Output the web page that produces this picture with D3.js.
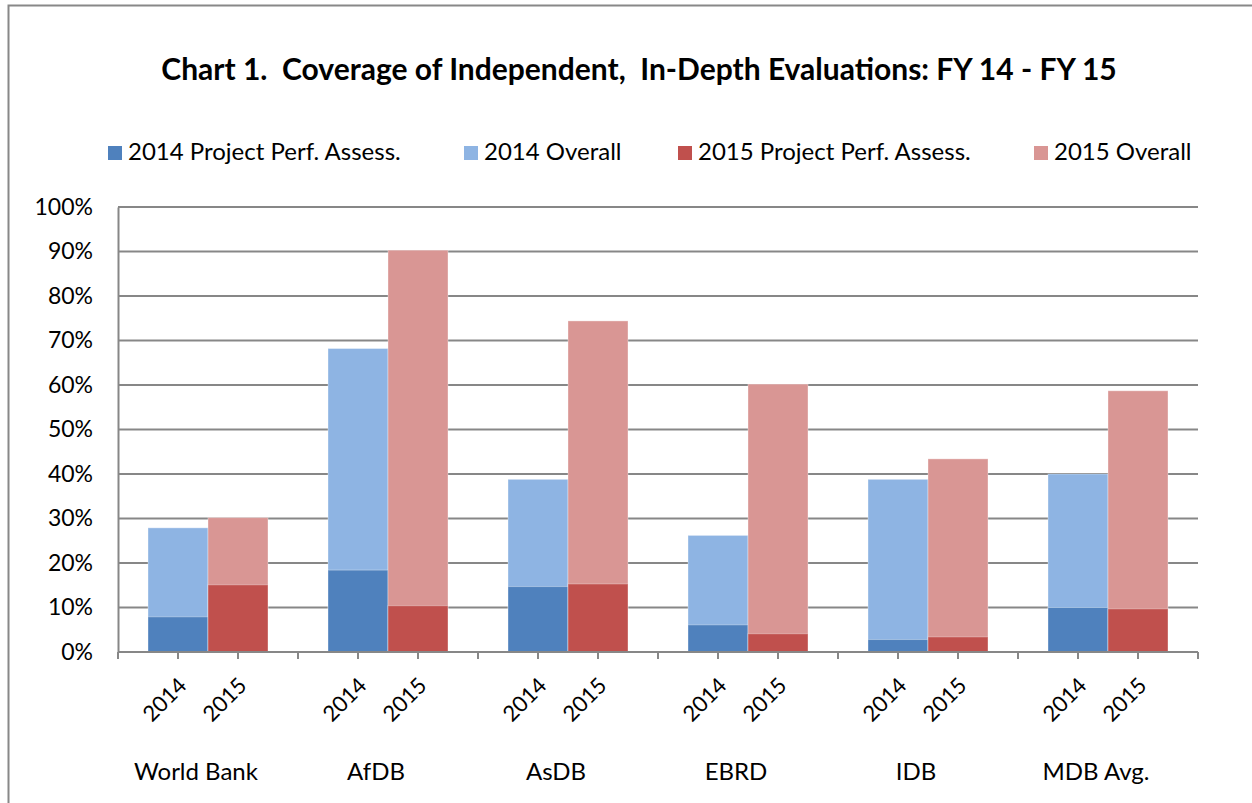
<!DOCTYPE html>
<html>
<head>
<meta charset="utf-8">
<script src="https://cdn.jsdelivr.net/npm/d3@7"></script>
<style>
    body { margin: 0; background: #fff; }
    text { font-family: Lato, 'Open Sans', sans-serif; fill: #000; white-space: pre; }
</style>
</head>
<body>
<svg width="1252" height="803"></svg>
<script>
// chart values (percent)
let groups = ['World Bank', 'AfDB', 'AsDB', 'EBRD', 'IDB', 'MDB Avg.'];
let years = ['2014', '2015'];
let ppa2014 = [7.9, 18.4, 14.7, 6.1, 2.8, 10.0];
let overall2014 = [27.9, 68.2, 38.8, 26.2, 38.8, 40.0];
let ppa2015 = [15.1, 10.4, 15.3, 4.1, 3.4, 9.7];
let overall2015 = [30.2, 90.3, 74.4, 60.2, 43.4, 58.7];
let yTicks = [0, 10, 20, 30, 40, 50, 60, 70, 80, 90, 100];
let legendLabels = ['2014 Project Perf. Assess.', '2014 Overall', '2015 Project Perf. Assess.', '2015 Overall'];

function main() {
    let svg = d3.select('svg'),
        margin = { top: 207, bottom: 151, left: 118, right: 54 },
        width = svg.attr('width') - margin.left - margin.right,
        height = svg.attr('height') - margin.top - margin.bottom;

    let colors = {
        ppa2014: '#4f81bd',
        over2014: '#8eb4e3',
        ppa2015: '#c0504d',
        over2015: '#d99694'
    };

    //outer frame
    svg.append('rect')
        .attr('x', 8.5).attr('y', 5.5)
        .attr('width', 1260).attr('height', 820)
        .attr('fill', 'none')
        .attr('stroke', '#888')
        .attr('stroke-width', 2);

    //Scales
    let x0 = d3.scaleBand()
            .domain(groups)
            .range([margin.left, margin.left + 1080]),
        x1 = d3.scaleBand()
            .domain(years)
            .range([0, x0.bandwidth()])
            .paddingInner(0)
            .paddingOuter(0.5),
        yScale = d3.scaleLinear()
            .domain([0, 100])
            .range([margin.top + height, margin.top]);

    //Gridlines
    svg.append('g')
        .selectAll('line')
        .data(yTicks)
        .enter()
        .append('line')
        .attr('x1', margin.left)
        .attr('x2', margin.left + width)
        .attr('y1', (d) => yScale(d))
        .attr('y2', (d) => yScale(d))
        .attr('stroke', '#878787')
        .attr('stroke-width', 2);

    //Y Axis
    let yAxis = svg.append('g')
        .attr('transform', 'translate(' + margin.left + ', 0)')
        .call(d3.axisLeft(yScale)
            .tickValues(yTicks)
            .tickSize(0)
            .tickPadding(25)
            .tickFormat((d) => d + '%'));
    yAxis.select('.domain').attr('stroke', '#878787').attr('stroke-width', 2);
    yAxis.selectAll('text').style('font-size', '23px');

    //Bars
    let rows = groups.map((g, i) => ({
        group: g,
        bars: [
            { year: '2014', ppa: ppa2014[i], overall: overall2014[i], cPpa: colors.ppa2014, cOver: colors.over2014 },
            { year: '2015', ppa: ppa2015[i], overall: overall2015[i], cPpa: colors.ppa2015, cOver: colors.over2015 }
        ]
    }));

    let groupSel = svg.append('g')
        .selectAll('g')
        .data(rows)
        .enter()
        .append('g')
        .attr('transform', (d) => 'translate(' + x0(d.group) + ',0)');

    let barSel = groupSel.selectAll('g')
        .data((d) => d.bars)
        .enter()
        .append('g');

    barSel.append('rect')
        .attr('x', (d) => x1(d.year))
        .attr('y', (d) => yScale(d.overall))
        .attr('width', x1.bandwidth())
        .attr('height', (d) => yScale(0) - yScale(d.overall))
        .attr('fill', (d) => d.cOver)
        .attr('stroke', 'rgba(255,255,255,0.35)')
        .attr('stroke-width', 1);

    barSel.append('rect')
        .attr('x', (d) => x1(d.year))
        .attr('y', (d) => yScale(d.ppa))
        .attr('width', x1.bandwidth())
        .attr('height', (d) => yScale(0) - yScale(d.ppa))
        .attr('fill', (d) => d.cPpa)
        .attr('stroke', 'rgba(255,255,255,0.35)')
        .attr('stroke-width', 1);

    //X Axis line and ticks
    let xAxis = svg.append('g');
    xAxis.append('line')
        .attr('x1', margin.left)
        .attr('x2', margin.left + 1080)
        .attr('y1', yScale(0))
        .attr('y2', yScale(0))
        .attr('stroke', '#878787')
        .attr('stroke-width', 2);

    let tickXs = [];
    groups.forEach((g) => {
        tickXs.push(x0(g));
        years.forEach((yr) => tickXs.push(x0(g) + x1(yr) + x1.bandwidth() / 2));
    });
    tickXs.push(margin.left + 1080);

    xAxis.selectAll('line.tick')
        .data(tickXs)
        .enter()
        .append('line')
        .attr('class', 'tick')
        .attr('x1', (d) => d)
        .attr('x2', (d) => d)
        .attr('y1', yScale(0))
        .attr('y2', yScale(0) + 7)
        .attr('stroke', '#878787')
        .attr('stroke-width', 2);

    //year labels
    groupSel.selectAll('text.year')
        .data((d) => d.bars)
        .enter()
        .append('text')
        .attr('class', 'year')
        .attr('text-anchor', 'end')
        .attr('transform', (d) => 'translate(' + (x1(d.year) + x1.bandwidth() / 2 + 10) + ',' + (yScale(0) + 35) + ') rotate(-45)')
        .style('font-size', '22px')
        .text((d) => d.year);

    //group labels
    groupSel.append('text')
        .attr('text-anchor', 'middle')
        .attr('x', x0.bandwidth() / 2 - 12)
        .attr('y', 780)
        .style('font-size', '24px')
        .text((d) => d.group);

    //Title
    svg.append('text')
        .attr('text-anchor', 'middle')
        .attr('x', 639)
        .attr('y', 80)
        .style('font-size', '30px')
        .style('font-weight', 'bold')
        .text('Chart 1.  Coverage of Independent,  In-Depth Evaluations: FY 14 - FY 15');

    //Legend
    let legendX = [108, 464, 678, 1034];
    let legendColors = [colors.ppa2014, colors.over2014, colors.ppa2015, colors.over2015];
    let legend = svg.append('g')
        .selectAll('g')
        .data(legendLabels)
        .enter()
        .append('g')
        .attr('transform', (d, i) => 'translate(' + legendX[i] + ',146)');
    legend.append('rect')
        .attr('width', 14)
        .attr('height', 14)
        .attr('fill', (d, i) => legendColors[i]);
    legend.append('text')
        .attr('x', 20)
        .attr('y', 14)
        .style('font-size', '24px')
        .text((d) => d);
}

main();
</script>
</body>
</html>
